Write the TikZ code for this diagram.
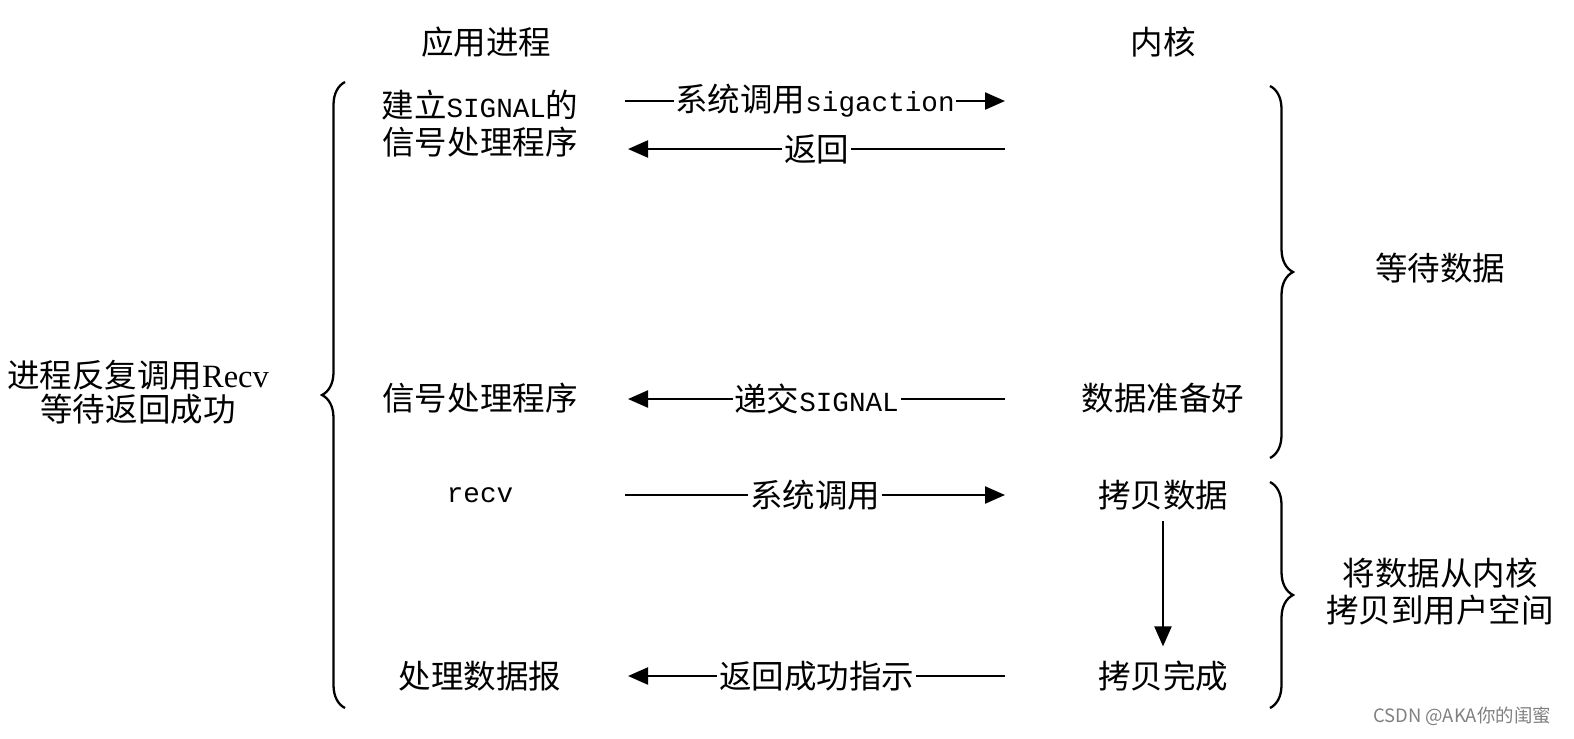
\documentclass[tikz,border=0pt]{standalone}
\usepackage{fontspec}
\setmainfont{Noto Sans CJK SC}
\newfontfamily\latmono[Scale=0.85]{Liberation Mono}
\newfontfamily\latserif{Liberation Serif}
\usetikzlibrary{arrows.meta, decorations.pathreplacing}

\begin{document}
\begin{tikzpicture}[x=0.02cm, y=-0.02cm, font=\fontsize{18.5}{21}\selectfont]
  % Styles
  \tikzset{proc/.style={align=center, inner sep=2pt}}
  \tikzset{msg/.style={-{Triangle[length=0.4cm, width=0.34cm]}, line width=1.3pt}}
  \tikzset{call_label/.style={fill=white, inner sep=1pt}}
  \tikzset{bracket/.style={decorate, decoration={brace, amplitude=0.46cm}, line width=1.3pt}}

  \useasboundingbox (0,0) rectangle (1574,738);

  % --- Column headings ---
  \node[proc] (app) at (486,42) {应用进程};
  \node[proc] (kern) at (1163,42) {内核};

  % --- Application side ---
  \node[proc, font=\fontsize{18.5}{19.5}\selectfont] (loop) at (138,392) {进程反复调用{\latserif Recv}\\等待返回成功};
  \node[proc] (setup) at (480,124) {建立{\latmono SIGNAL}的\\信号处理程序};
  \node[proc] (handler) at (480,398) {信号处理程序};
  \node[proc] (recv) at (480,495) {\latmono recv};
  \node[proc] (process) at (480,676) {处理数据报};

  % --- Kernel side ---
  \node[proc] (ready) at (1163,398) {数据准备好};
  \node[proc] (copy) at (1163,495) {拷贝数据};
  \node[proc] (done) at (1163,676) {拷贝完成};
  \node[proc] (wait) at (1440,268) {等待数据};
  \node[proc] (move) at (1440,592) {将数据从内核\\拷贝到用户空间};

  % --- Arrow ends ---
  \coordinate (u1) at (625,101);  \coordinate (k1) at (1005,101);
  \coordinate (u2) at (628,149);  \coordinate (k2) at (1005,149);
  \coordinate (u3) at (628,399);  \coordinate (k3) at (1005,399);
  \coordinate (u4) at (625,495);  \coordinate (k4) at (1005,495);
  \coordinate (u5) at (628,676);  \coordinate (k5) at (1005,676);

  % --- Calls between the two sides ---
  \draw[msg] (u1) -- node[call_label] {系统调用{\latmono sigaction}} (k1);
  \draw[msg] (k2) -- node[call_label] {返回} (u2);
  \draw[msg] (k3) -- node[call_label] {递交{\latmono SIGNAL}} (u3);
  \draw[msg] (u4) -- node[call_label] {系统调用} (k4);
  \draw[msg] (k5) -- node[call_label] {返回成功指示} (u5);
  \draw[msg, shorten <=4pt, shorten >=6pt] (copy.south) -- (done.north);

  % --- Braces ---
  \draw[bracket] (345,708) -- (345,82);
  \draw[bracket] (1270,86) -- (1270,458);
  \draw[bracket] (1270,482) -- (1270,708);

  % --- Watermark ---
  \node[text=gray, font=\fontsize{10.5}{12}\selectfont] (mark) at (1462,716) {CSDN @AKA你的闺蜜};
\end{tikzpicture}
\end{document}
